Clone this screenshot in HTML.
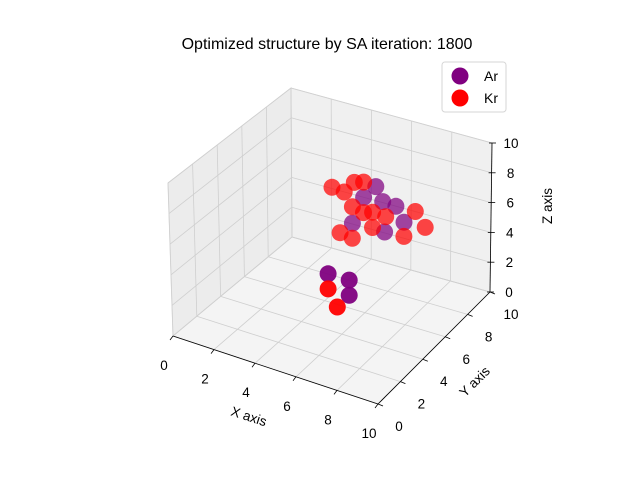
<!DOCTYPE html>
<html><head><meta charset="utf-8">
<style>
body{margin:0;background:#fff;}
svg{display:block;font-family:"Liberation Sans","DejaVu Sans",sans-serif;}
</style></head>
<body>
<svg id="chart" width="640" height="480" viewBox="0 0 640 480" xmlns="http://www.w3.org/2000/svg">
<rect width="640" height="480" fill="#fff"/>
<text x="327" y="49" font-size="16" text-anchor="middle">Optimized structure by SA iteration: 1800</text>
<g id="panes"></g>
<g id="grid"></g>
<g id="axes"></g>
<g id="points"></g>
<g>
<rect x="442" y="62" width="64" height="50" rx="3" fill="#fff" fill-opacity="0.8" stroke="#d6d6d6"/>
<circle cx="460" cy="76" r="8.5" fill="#800080"/>
<text x="484" y="81" font-size="14">Ar</text>
<circle cx="460" cy="98" r="8.5" fill="#ff0000"/>
<text x="484" y="103" font-size="14">Kr</text>
</g>
</svg>
<script>
const ticks = [0,2,4,6,8,10];
const tickLabels = ["0","2","4","6","8","10"];
const arX = [7.07,6.48,7.41,8.05,5.94,8.45,7.51,4.75,5.79,5.79];
const arY = [5,5,5,5,5,5,5,5,5,5];
const arZ = [9.47,8.52,8.62,8.57,6.6,7.68,6.65,2.77,2.78,1.77];
const krX = [4.95,6.03,6.48,5.54,5.94,6.48,6.92,7.56,8.99,9.48,5.34,5.94,6.92,8.45,4.75,5.2];
const krY = [5,5,5,5,5,5,5,5,5,5,5,5,5,5,5,5];
const krZ = [8.57,9.33,9.53,8.5,7.68,7.52,7.72,7.68,8.6,7.75,5.73,5.6,6.71,6.74,1.77,0.76];

// projected screen positions of the 8 box corners [x][y][z] (x,y,z in {0,10})
const C = {
 '000':[173,336],'100':[378,404],'010':[292,237],'110':[490,292],
 '001':[168,183],'101':[381,250],'011':[291,88],'111':[492,143]
};
function P(x,y,z){
  const u=x/10,v=y/10,w=z/10;let sx=0,sy=0;
  for(const a of [0,1])for(const b of [0,1])for(const c of [0,1]){
    const wt=(a?u:1-u)*(b?v:1-v)*(c?w:1-w);const p=C[''+a+b+c];
    sx+=wt*p[0];sy+=wt*p[1];}
  return [sx,sy];
}
const NS='http://www.w3.org/2000/svg';
function mk(tag,attrs,parent){const e=document.createElementNS(NS,tag);for(const k in attrs)e.setAttribute(k,attrs[k]);parent.appendChild(e);return e;}
function poly(pts){return pts.map(p=>p[0].toFixed(1)+','+p[1].toFixed(1)).join(' ');}
const panes=document.getElementById('panes');
let e;
e=mk('polygon',{points:poly([P(0,0,0),P(0,10,0),P(0,10,10),P(0,0,10)]),fill:'#ececec',stroke:'#e0e0e0'},panes);


e=mk('polygon',{points:poly([P(0,10,0),P(10,10,0),P(10,10,10),P(0,10,10)]),fill:'#f0f0f0',stroke:'#e0e0e0'},panes);


e=mk('polygon',{points:poly([P(0,0,0),P(10,0,0),P(10,10,0),P(0,10,0)]),fill:'#f4f4f4',stroke:'#e0e0e0'},panes);


const grid=document.getElementById('grid');
function line(a,b,parent,name,col,w){const l=mk('line',{x1:a[0],y1:a[1],x2:b[0],y2:b[1],stroke:col,'stroke-width':w},parent);

return l;}
ticks.forEach(t=>{
  line(P(t,0,0),P(t,10,0),grid,'floor-grid-x','#cfcfcf',0.8);
  line(P(0,t,0),P(10,t,0),grid,'floor-grid-y','#cfcfcf',0.8);
  line(P(0,t,0),P(0,t,10),grid,'left-grid-y','#cfcfcf',0.8);
  line(P(0,0,t),P(0,10,t),grid,'left-grid-z','#cfcfcf',0.8);
  line(P(t,10,0),P(t,10,10),grid,'back-grid-x','#cfcfcf',0.8);
  line(P(0,10,t),P(10,10,t),grid,'back-grid-z','#cfcfcf',0.8);
});
const axes=document.getElementById('axes');
line(P(0,0,0),P(10,0,0),axes,'x-axis-line','#000',0.8);
line(P(10,0,0),P(10,10,0),axes,'y-axis-line','#000',0.8);
line(P(10,10,0),P(10,10,10),axes,'z-axis-line','#000',0.8);
function txt(x,y,s,name,extra){const t=mk('text',Object.assign({x:x,y:y,'font-size':'13.5','text-anchor':'middle'},extra||{}),axes);t.textContent=s;

return t;}
ticks.forEach((t,i)=>{
  let a=P(t,0,0);line(a,[a[0]-3,a[1]+4],axes,'x-tick','#000',0.8);
  txt(a[0]-9,a[1]+34,tickLabels[i],'x-tick-label');
  a=P(10,t,0);line(a,[a[0]+5,a[1]+2],axes,'y-tick','#000',0.8);
  txt(a[0]+21,a[1]+27,tickLabels[i],'y-tick-label');
  a=P(10,10,t);line([a[0]-3,a[1]],[a[0]+4,a[1]],axes,'z-tick','#000',0.8);
  txt(a[0]+19,a[1]+5,tickLabels[i],'z-tick-label');
});
txt(249,421,'X axis','x-axis-title',{transform:'rotate(18 249 416)'});
txt(475,386,'Y axis','y-axis-title',{transform:'rotate(-45 475 382)'});
txt(552,214,'Z axis','z-axis-title',{transform:'rotate(-90 548 210)'});
const pts=document.getElementById('points');
const all=[];
arX.forEach((x,i)=>all.push({x:x,y:arY[i],z:arZ[i],c:'#800080',n:'ar-atom'}));
krX.forEach((x,i)=>all.push({x:x,y:krY[i],z:krZ[i],c:'#ff0000',n:'kr-atom'}));
all.forEach(p=>{
  const s=P(p.x,p.y,p.z);
  const c=mk('circle',{cx:s[0].toFixed(1),cy:s[1].toFixed(1),r:8.5,fill:p.c,'fill-opacity':p.z<3?0.95:0.72},pts);
  
  
});
</script>
</body></html>
